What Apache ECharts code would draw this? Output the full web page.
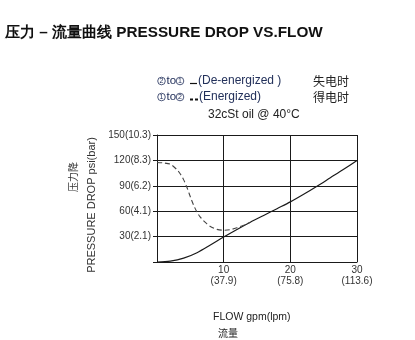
<!DOCTYPE html>
<html>
<head>
<meta charset="utf-8">
<script src="https://cdn.jsdelivr.net/npm/echarts@6/dist/echarts.min.js"></script>
<style>
html,body{margin:0;padding:0;background:#fff;}
#c{width:415px;height:340px;}
</style>
</head>
<body>
<div id="c"></div>
<script>
// Tick labels
var xTicks = [10, 20, 30];
var xTickLpm = ['37.9', '75.8', '113.6'];
var yTicks = [30, 60, 90, 120, 150];
var yTickBar = ['2.1', '4.1', '6.2', '8.3', '10.3'];

// De-energized (solid) curve: flow gpm / pressure psi
var solidFlow = [0, 2, 4, 6, 8, 10, 12, 14, 16, 18, 20, 22, 24, 26, 28, 30];
var solidPsi  = [0, 1, 4.5, 11, 20, 29.5, 38.5, 47, 55, 63, 71, 80, 89.5, 99.5, 109.5, 120];

// Energized (dashed) curve
var dashFlow = [0, 1, 2, 3, 3.5, 4, 4.5, 5, 5.5, 6, 6.5, 7, 7.5, 8, 9, 10, 11, 12, 13, 14];
var dashPsi  = [117.5, 117, 115.5, 109, 104, 97, 88, 77, 67, 59, 53, 48.5, 45, 42, 38.5, 37.5, 38.2, 40.5, 43.5, 47];

function pairs(a, b) { return a.map(function (v, i) { return [v, b[i]]; }); }

var chart = echarts.init(document.getElementById('c'));
var lineCol = '#1a1a1a';
var textCol = '#333';
var navy = '#22305a';
var fam = 'Liberation Sans, Arial, sans-serif';
var lg = '12px Liberation Sans, Arial, sans-serif';

function circled(cx, cy, d) {
  return [
    { type: 'circle', shape: { cx: cx, cy: cy, r: 3.8 }, style: { fill: 'none', stroke: navy, lineWidth: 0.8 } },
    { type: 'text', x: cx, y: cy + 0.3, style: { text: d, font: '7px Liberation Sans, Arial, sans-serif', fill: navy, align: 'center', verticalAlign: 'middle' } }
  ];
}

var graphics = [
  { type: 'text', x: 5, y: 33, style: { text: '压力 – 流量曲线 PRESSURE DROP VS.FLOW', font: 'bold 15.3px Liberation Sans, Arial, sans-serif', fill: '#111', verticalAlign: 'middle' } },
  { type: 'text', x: 166.5, y: 81, style: { text: 'to', font: '11.5px Liberation Sans, Arial, sans-serif', fill: navy, verticalAlign: 'middle' } },
  { type: 'text', x: 166.5, y: 97, style: { text: 'to', font: '11.5px Liberation Sans, Arial, sans-serif', fill: navy, verticalAlign: 'middle' } },
  { type: 'line', shape: { x1: 190, y1: 83.5, x2: 197, y2: 83.5 }, style: { stroke: '#111', lineWidth: 1.2 } },
  { type: 'line', shape: { x1: 190, y1: 99.5, x2: 198, y2: 99.5 }, style: { stroke: '#111', lineWidth: 1.8, lineDash: [3, 2] } },
  { type: 'text', x: 198, y: 81, style: { text: '(De-energized )', font: lg, fill: navy, verticalAlign: 'middle' } },
  { type: 'text', x: 199, y: 97, style: { text: '(Energized)', font: lg, fill: navy, verticalAlign: 'middle' } },
  { type: 'text', x: 313, y: 81, style: { text: '失电时', font: '12px Noto Sans CJK SC, sans-serif', fill: '#222', verticalAlign: 'middle' } },
  { type: 'text', x: 313, y: 97, style: { text: '得电时', font: '12px Noto Sans CJK SC, sans-serif', fill: '#222', verticalAlign: 'middle' } },
  { type: 'text', x: 208, y: 115, style: { text: '32cSt oil @ 40°C', font: lg, fill: '#222', verticalAlign: 'middle' } },
  { type: 'text', x: 92, y: 205, rotation: Math.PI / 2, style: { text: 'PRESSURE DROP psi(bar)', font: '11px Liberation Sans, Arial, sans-serif', fill: textCol, align: 'center', verticalAlign: 'middle' } },
  { type: 'text', x: 73, y: 177, rotation: Math.PI / 2, style: { text: '压力降', font: '10px Noto Sans CJK SC, sans-serif', fill: textCol, align: 'center', verticalAlign: 'middle' } },
  { type: 'text', x: 213, y: 317, style: { text: 'FLOW gpm(lpm)', font: '10.5px Liberation Sans, Arial, sans-serif', fill: '#222', verticalAlign: 'middle' } },
  { type: 'text', x: 218, y: 333, style: { text: '流量', font: '10px Noto Sans CJK SC, sans-serif', fill: '#222', verticalAlign: 'middle' } }
].concat(circled(161.5, 81, '2'), circled(180, 81, '1'), circled(161.5, 97, '1'), circled(180, 97, '2'));

chart.setOption({
  animation: false,
  backgroundColor: '#fff',
  grid: { left: 157, right: 58, top: 135, bottom: 78 },
  xAxis: {
    type: 'value', min: 0, max: 30, interval: 10,
    axisLine: { show: true, lineStyle: { color: lineCol, width: 1 } },
    axisTick: { show: false },
    splitLine: { show: true, lineStyle: { color: lineCol, width: 1 } },
    axisLabel: {
      margin: 3, color: textCol, fontSize: 10, fontFamily: fam, lineHeight: 11,
      formatter: function (v) {
        var i = xTicks.indexOf(v);
        return i < 0 ? '' : v + '\n(' + xTickLpm[i] + ')';
      }
    }
  },
  yAxis: {
    type: 'value', min: 0, max: 150, interval: 30,
    axisLine: { show: true, lineStyle: { color: lineCol, width: 1 } },
    axisTick: { show: true, inside: false, length: 4, lineStyle: { color: lineCol } },
    splitLine: { show: true, lineStyle: { color: lineCol, width: 1 } },
    axisLabel: {
      margin: 6, color: textCol, fontSize: 10, fontFamily: fam,
      formatter: function (v) {
        var i = yTicks.indexOf(v);
        return i < 0 ? '' : v + '(' + yTickBar[i] + ')';
      }
    }
  },
  series: [
    {
      type: 'line', data: pairs(solidFlow, solidPsi), smooth: 0.3, symbol: 'none',
      lineStyle: { color: lineCol, width: 1.2, type: 'solid' }
    },
    {
      type: 'line', data: pairs(dashFlow, dashPsi), smooth: 0.3, symbol: 'none',
      lineStyle: { color: '#444', width: 1.1, type: [5, 3] }
    }
  ],
  graphic: graphics
});
</script>
</body>
</html>
